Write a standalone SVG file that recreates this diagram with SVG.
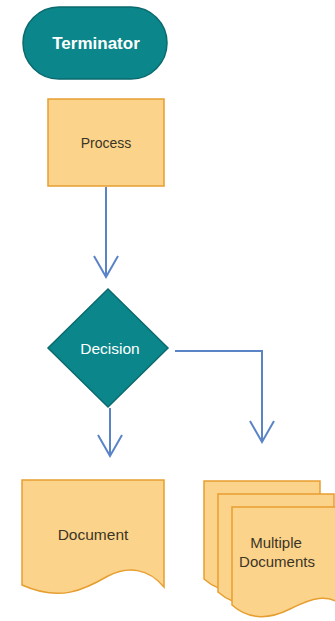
<svg xmlns="http://www.w3.org/2000/svg" width="335" height="621" viewBox="0 0 335 621">
<style>
.teal{fill:#0b878b;stroke:#0a6a6e;stroke-width:1.5}
.orange{fill:#fcd38b;stroke:#e69e30;stroke-width:1.5;stroke-linejoin:miter}
.lt{font-family:"Liberation Sans",Arial,sans-serif;fill:#ffffff;text-anchor:middle}
.dt{font-family:"Liberation Sans",Arial,sans-serif;fill:#3b3526;text-anchor:middle}
.conn{fill:none;stroke:#5a84c6;stroke-width:2}
</style>
<defs>
<marker id="arr" markerUnits="userSpaceOnUse" markerWidth="30" markerHeight="30" refX="0" refY="0" viewBox="-24 -15 30 30" orient="auto" overflow="visible">
<path d="M-21,-12 L0,0 L-21,12" fill="none" stroke="#5a84c6" stroke-width="2"/>
</marker>
<path id="sheet" d="M0,0 H116 V102 C96,84 78,92 58,102 C38,112 18,114 0,98 Z"/>
</defs>
<g id="connectors">
<path class="conn" d="M106,187 V277" marker-end="url(#arr)"/>
<path class="conn" d="M110,408 V456" marker-end="url(#arr)"/>
<path class="conn" d="M175,351 H262 V442" marker-end="url(#arr)"/>
</g>
<g id="terminator">
<rect class="teal" x="23" y="7" width="144" height="72" rx="36"/>
<text class="lt" x="96" y="49" font-size="17" font-weight="bold">Terminator</text>
</g>
<g id="process">
<rect class="orange" x="48" y="99" width="116" height="87"/>
<text class="dt" x="106" y="148" font-size="14">Process</text>
</g>
<g id="decision">
<polygon class="teal" points="108,289 168,348 108,407 48,348"/>
<text class="lt" x="110" y="354" font-size="15.5">Decision</text>
</g>
<g id="document">
<path class="orange" d="M22,480 H164 V587 C148,568 128,566 108,576 C84,590 60,602 22,585 Z"/>
<text class="dt" x="93" y="540" font-size="15.5">Document</text>
</g>
<g id="multiple-documents">
<use href="#sheet" class="orange" x="204" y="481"/>
<use href="#sheet" class="orange" x="218" y="494"/>
<use href="#sheet" class="orange" x="232" y="507"/>
<text class="dt" x="276" y="548" font-size="15">Multiple</text>
<text class="dt" x="277" y="567" font-size="15">Documents</text>
</g>
</svg>
